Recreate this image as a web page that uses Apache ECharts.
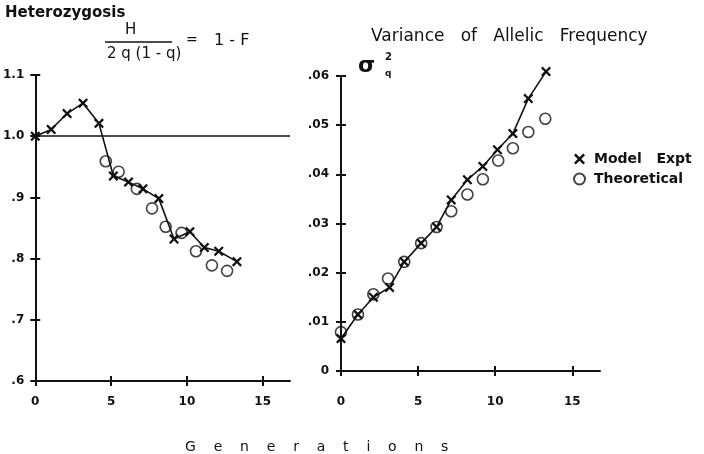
<!DOCTYPE html>
<html>
<head>
<meta charset="utf-8">
<script src="https://cdn.jsdelivr.net/npm/echarts@6/dist/echarts.min.js"></script>
<style>
  html, body { margin: 0; padding: 0; background: #fff; }
  #box { width: 704px; height: 454px; }
</style>
</head>
<body>
<div id="box"></div>
<script>
// values
var leftModelGen = [0, 1.05, 2.1, 3.15, 4.2, 5.15, 6.15, 7.1, 8.15, 9.15, 10.2, 11.15, 12.1, 13.3];
var leftModel = [1.000, 1.011, 1.037, 1.054, 1.021, 0.935, 0.925, 0.914, 0.898, 0.832, 0.844, 0.818, 0.812, 0.795];
var leftTheoGen = [4.65, 5.5, 6.7, 7.7, 8.6, 9.65, 10.6, 11.65, 12.65];
var leftTheo = [0.959, 0.942, 0.914, 0.882, 0.852, 0.842, 0.812, 0.789, 0.780];

var rightModelGen = [0, 1.1, 2.1, 3.15, 4.1, 5.2, 6.2, 7.15, 8.2, 9.2, 10.15, 11.15, 12.15, 13.3];
var rightModel = [0.0066, 0.0115, 0.0150, 0.0170, 0.0222, 0.0260, 0.0293, 0.0348, 0.0389, 0.0416, 0.0450, 0.0483, 0.0554, 0.0609];
var rightTheoGen = [0, 1.1, 2.1, 3.05, 4.1, 5.2, 6.2, 7.15, 8.2, 9.2, 10.2, 11.15, 12.15, 13.25];
var rightTheo = [0.0079, 0.0115, 0.0156, 0.0188, 0.0222, 0.0260, 0.0293, 0.0325, 0.0359, 0.0390, 0.0428, 0.0453, 0.0486, 0.0513];

var xTicks = [0, 5, 10, 15];
var leftYTicks = [0.6, 0.7, 0.8, 0.9, 1.0, 1.1];
var leftYLabels = ['.6', '.7', '.8', '.9', '1.0', '1.1'];
var rightYTicks = [0, 0.01, 0.02, 0.03, 0.04, 0.05, 0.06];
var rightYLabels = ['0', '.01', '.02', '.03', '.04', '.05', '.06'];
var refLine = 1.0;

var ink = '#111';
var font = 'DejaVu Sans';
var crossPath = 'path://M0,1.6L1.6,0L5,3.4L8.4,0L10,1.6L6.6,5L10,8.4L8.4,10L5,6.6L1.6,10L0,8.4L3.4,5Z';

function zip(a, b) {
    return a.map(function (v, i) { return [v, b[i]]; });
}

var mychart = echarts.init(document.getElementById('box'));

// one pair of axes draws ticks outside, the second pair the inner half of the cross ticks
function xAxes(gi) {
    var base = {
        type: 'value', gridIndex: gi, min: 0, max: 16.8, position: 'bottom',
        splitLine: { show: false }
    };
    return [
        Object.assign({}, base, {
            axisLine: { onZero: false, lineStyle: { color: ink, width: 2 } },
            axisTick: { length: 5, customValues: xTicks, lineStyle: { color: ink, width: 2 } },
            axisLabel: { customValues: xTicks, margin: gi === 0 ? 15 : 25, color: ink,
                fontFamily: font, fontWeight: 'bold', fontSize: 12 }
        }),
        Object.assign({}, base, {
            axisLine: { show: false, onZero: false },
            axisTick: { inside: true, length: 5, customValues: xTicks, lineStyle: { color: ink, width: 2 } },
            axisLabel: { show: false }
        })
    ];
}

function yAxes(gi, min, max, ticks, labels, margin) {
    var base = {
        type: 'value', gridIndex: gi, min: min, max: max, position: 'left',
        splitLine: { show: false }
    };
    return [
        Object.assign({}, base, {
            axisLine: { onZero: false, lineStyle: { color: ink, width: 2 } },
            axisTick: { length: 5, customValues: ticks, lineStyle: { color: ink, width: 2 } },
            axisLabel: {
                customValues: ticks, margin: margin, color: ink,
                fontFamily: font, fontWeight: 'bold', fontSize: 12,
                formatter: function (v) {
                    var i = ticks.findIndex(function (t) { return Math.abs(t - v) < 1e-9; });
                    return i < 0 ? '' : labels[i];
                }
            }
        }),
        Object.assign({}, base, {
            axisLine: { show: false, onZero: false },
            axisTick: { inside: true, length: 5, customValues: ticks, lineStyle: { color: ink, width: 2 } },
            axisLabel: { show: false }
        })
    ];
}

var option = {
    backgroundColor: '#fff',
    animation: false,
    textStyle: { fontFamily: font },
    grid: [
        { left: 30, top: 75, width: 260, height: 306 },
        { left: 341, top: 76, width: 259, height: 295 }
    ],
    xAxis: xAxes(0).concat(xAxes(1)),
    yAxis: yAxes(0, 0.6, 1.1, leftYTicks, leftYLabels, 11)
        .concat(yAxes(1, 0, 0.06, rightYTicks, rightYLabels, 12)),
    title: [
        { text: 'Heterozygosis', left: 0, top: 1,
          textStyle: { fontFamily: font, fontWeight: 'bold', fontSize: 15, color: ink } },
        { text: 'Variance   of   Allelic   Frequency', left: 366, top: 23,
          textStyle: { fontFamily: font, fontWeight: 'normal', fontSize: 17, color: ink } },
        { text: 'G    e    n    e    r    a    t    i    o    n    s', left: 180, top: 435,
          textStyle: { fontFamily: font, fontWeight: 'normal', fontSize: 14, color: ink } }
    ],
    legend: {
        orient: 'vertical', left: 568, top: 147,
        itemWidth: 11, itemHeight: 11, itemGap: 6,
        textStyle: { fontFamily: font, fontWeight: 'bold', fontSize: 14, color: ink,
                     padding: [0, 0, 0, 4] },
        formatter: function (n) { return n === 'Model Expt' ? 'Model   Expt' : n; },
        data: [
            { name: 'Model Expt', icon: crossPath },
            { name: 'Theoretical', icon: 'circle' }
        ]
    },
    graphic: [
        { type: 'text', left: 125, top: 23, style: { text: 'H', font: '15px DejaVu Sans', fill: ink } },
        { type: 'line', shape: { x1: 105, y1: 42, x2: 172, y2: 42 }, style: { stroke: ink, lineWidth: 1.5 } },
        { type: 'text', left: 107, top: 47, style: { text: '2 q (1 - q)', font: '15px DejaVu Sans', fill: ink } },
        { type: 'text', left: 186, top: 33, style: { text: '=', font: '14px DejaVu Sans', fill: ink } },
        { type: 'text', left: 214, top: 33, style: { text: '1 - F', font: '16px DejaVu Sans', fill: ink } },
        { type: 'text', left: 358, top: 55, style: { text: 'σ', font: 'bold 22px DejaVu Sans', fill: ink } },
        { type: 'text', left: 385, top: 52, style: { text: '2', font: 'bold 10px DejaVu Sans', fill: ink } },
        { type: 'text', left: 385, top: 69, style: { text: 'q', font: 'bold 9px DejaVu Sans', fill: ink } }
    ],
    series: [
        {
            name: 'Model Expt', type: 'line', xAxisIndex: 0, yAxisIndex: 0,
            data: zip(leftModelGen, leftModel), clip: false,
            symbol: crossPath, symbolSize: 10,
            lineStyle: { color: ink, width: 1.6 },
            itemStyle: { color: ink },
            markLine: {
                silent: true, symbol: 'none', label: { show: false },
                lineStyle: { color: ink, width: 1.6, type: 'solid' },
                data: [{ yAxis: refLine }]
            }
        },
        {
            name: 'Theoretical', type: 'scatter', xAxisIndex: 0, yAxisIndex: 0,
            data: zip(leftTheoGen, leftTheo),
            symbol: 'circle', symbolSize: 11,
            itemStyle: { color: 'rgba(0,0,0,0)', borderColor: ink, borderWidth: 1.6 }
        },
        {
            name: 'Model Expt', type: 'line', xAxisIndex: 2, yAxisIndex: 2,
            data: zip(rightModelGen, rightModel), clip: false,
            symbol: crossPath, symbolSize: 10,
            lineStyle: { color: ink, width: 1.6 },
            itemStyle: { color: ink }
        },
        {
            name: 'Theoretical', type: 'scatter', xAxisIndex: 2, yAxisIndex: 2,
            data: zip(rightTheoGen, rightTheo), clip: false,
            symbol: 'circle', symbolSize: 11,
            itemStyle: { color: 'rgba(0,0,0,0)', borderColor: ink, borderWidth: 1.6 }
        }
    ]
};

mychart.setOption(option);
</script>
</body>
</html>
